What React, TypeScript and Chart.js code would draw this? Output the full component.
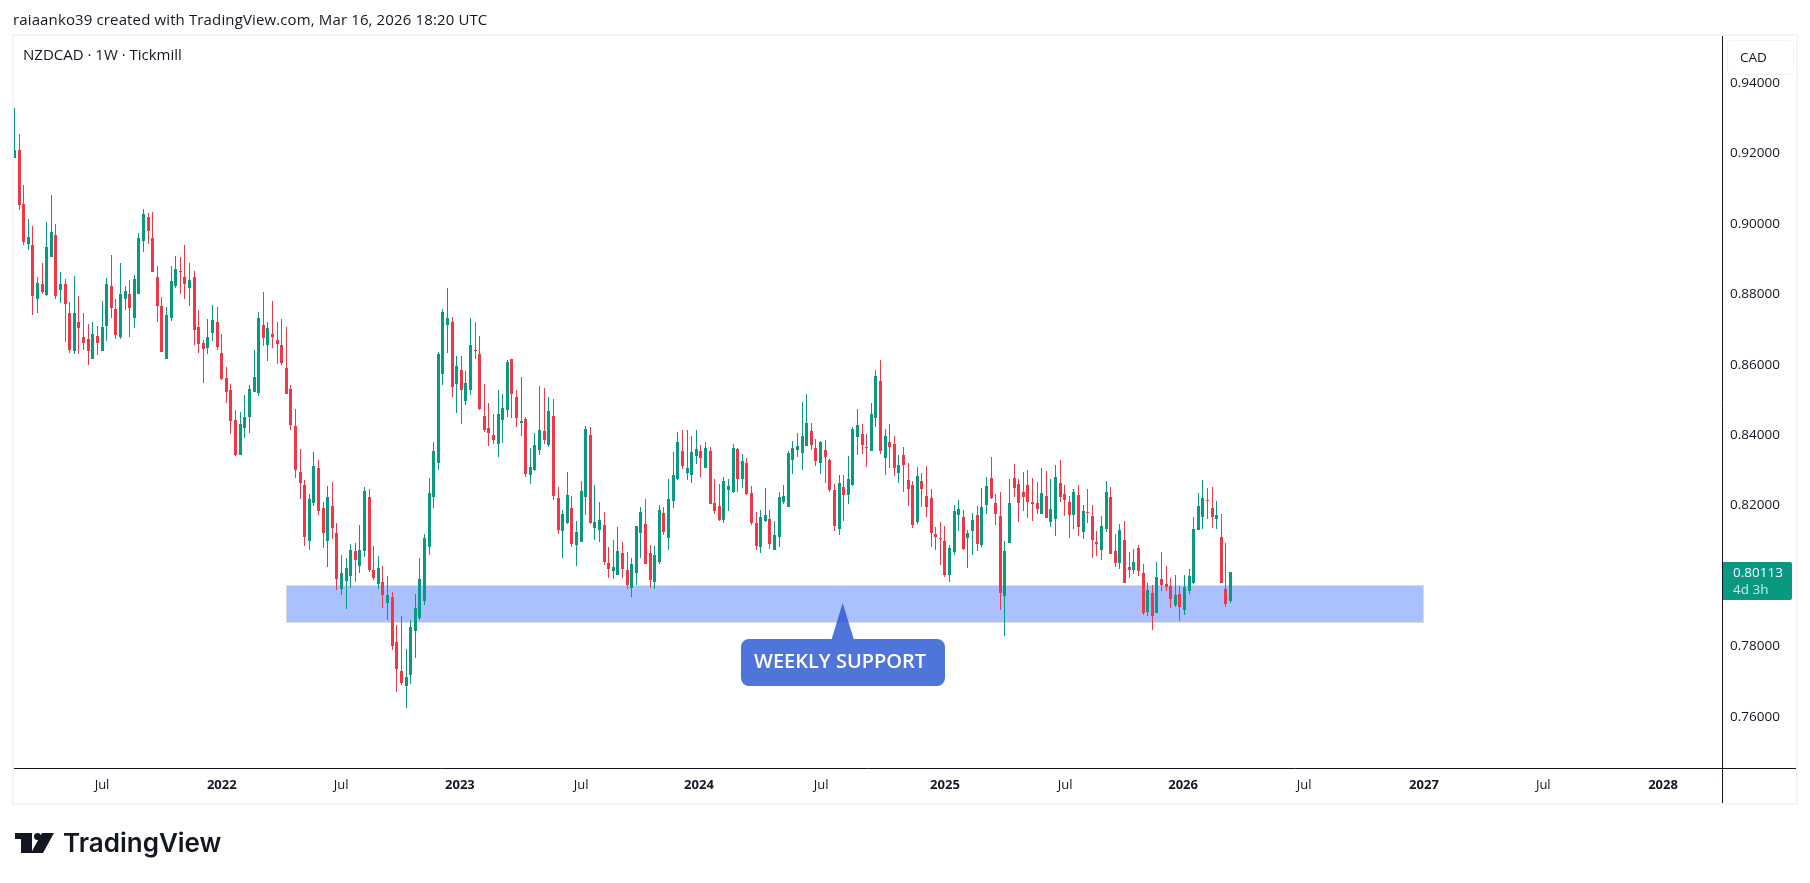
import { Chart, registerables } from 'chart.js';
import { useEffect, useRef, type FC } from 'react';

Chart.register(...registerables);

// weekly NZDCAD candles
const opens = [
  0.9187, 0.921, 0.9057, 0.8943, 0.894, 0.8787, 0.883, 0.8798, 0.8906, 0.8969,
  0.8812, 0.883, 0.8747, 0.8639, 0.8722, 0.8679, 0.8673, 0.8617, 0.8682, 0.8639,
  0.871, 0.8824, 0.8759, 0.8679, 0.8787, 0.8801, 0.8733, 0.8801, 0.8952, 0.902,
  0.896, 0.8849, 0.8767, 0.8617, 0.8733, 0.8824, 0.8866, 0.8849, 0.8818, 0.8849,
  0.8707, 0.8662, 0.8648, 0.869, 0.8722, 0.8634, 0.8563, 0.8529, 0.8444, 0.8344,
  0.8421, 0.8452, 0.8523, 0.852, 0.8713, 0.8656, 0.8688, 0.8671, 0.8656, 0.8591,
  0.8532, 0.8427, 0.8296, 0.8259, 0.81, 0.8208, 0.8307, 0.8194, 0.81, 0.8199,
  0.8123, 0.7964, 0.7986, 0.8001, 0.8072, 0.8029, 0.8072, 0.8225, 0.8018, 0.7978,
  0.7984, 0.7924, 0.7941, 0.7813, 0.7731, 0.7688, 0.772, 0.7844, 0.7881, 0.793,
  0.8083, 0.8225, 0.8321, 0.8574, 0.8713, 0.8721, 0.8545, 0.8585, 0.8497, 0.8528,
  0.8642, 0.8631, 0.8455, 0.8421, 0.8401, 0.8375, 0.8443, 0.8472, 0.8616, 0.8509,
  0.8435, 0.8446, 0.8287, 0.8301, 0.8358, 0.8412, 0.8372, 0.8455, 0.8222, 0.8128,
  0.8151, 0.8194, 0.8087, 0.8097, 0.8225, 0.8401, 0.8137, 0.8131, 0.8145, 0.8037,
  0.8015, 0.8003, 0.8066, 0.8018, 0.7966, 0.8009, 0.8122, 0.8148, 0.8066, 0.7984,
  0.804, 0.8179, 0.8108, 0.8213, 0.8276, 0.8355, 0.8293, 0.8287, 0.8341, 0.8355,
  0.8307, 0.8355, 0.8208, 0.8199, 0.8159, 0.8245, 0.8239, 0.8361, 0.8276, 0.8321,
  0.8236, 0.8151, 0.8083, 0.8157, 0.8162, 0.8074, 0.8111, 0.8211, 0.8196, 0.833,
  0.8358, 0.835, 0.8369, 0.8412, 0.8364, 0.8321, 0.8358, 0.833, 0.8245, 0.8134,
  0.8253, 0.823, 0.8259, 0.8395, 0.8404, 0.8367, 0.8355, 0.8449, 0.8554, 0.8335,
  0.8381, 0.8375, 0.8293, 0.8344, 0.8273, 0.8259, 0.8154, 0.827, 0.8228, 0.8222,
  0.812, 0.8108, 0.81, 0.8003, 0.8069, 0.8174, 0.8168, 0.8108, 0.8128, 0.8174,
  0.8089, 0.8202, 0.8279, 0.8208, 0.8171, 0.7944, 0.8094, 0.8279, 0.8262, 0.8239,
  0.8259, 0.821, 0.8208, 0.8176, 0.8228, 0.8154, 0.8162, 0.8264, 0.8233, 0.821,
  0.8174, 0.823, 0.8125, 0.8182, 0.8171, 0.8097, 0.8074, 0.8134, 0.8225, 0.8071,
  0.8037, 0.8103, 0.8026, 0.8018, 0.808, 0.8009, 0.7898, 0.7952, 0.7896, 0.7992,
  0.7978, 0.7972, 0.7918, 0.7949, 0.7904, 0.7958, 0.7981, 0.8131, 0.8168, 0.8216,
  0.8193, 0.8162, 0.8111, 0.7964, 0.793,
];

const closes = [
  0.921, 0.9054, 0.8949, 0.8963, 0.8796, 0.8832, 0.8807, 0.8935, 0.8977, 0.8796,
  0.883, 0.8773, 0.8642, 0.8747, 0.8705, 0.8662, 0.8639, 0.8688, 0.8662, 0.8707,
  0.883, 0.8761, 0.8685, 0.8801, 0.881, 0.8761, 0.8844, 0.896, 0.9028, 0.898,
  0.8864, 0.8767, 0.8636, 0.8742, 0.8838, 0.8872, 0.8864, 0.883, 0.8841, 0.8699,
  0.8659, 0.8645, 0.8679, 0.8727, 0.8651, 0.856, 0.8523, 0.8441, 0.8344, 0.8432,
  0.8452, 0.8532, 0.8566, 0.8733, 0.8676, 0.8705, 0.8679, 0.8659, 0.8605, 0.8517,
  0.8429, 0.8302, 0.8265, 0.8111, 0.8219, 0.8313, 0.8185, 0.8123, 0.8225, 0.8137,
  0.7992, 0.8009, 0.8023, 0.8074, 0.8046, 0.8074, 0.8242, 0.8018, 0.7995, 0.8023,
  0.7947, 0.7947, 0.7802, 0.7737, 0.7697, 0.7714, 0.7856, 0.791, 0.7992, 0.8108,
  0.8236, 0.8355, 0.8631, 0.875, 0.8733, 0.8537, 0.8597, 0.8528, 0.8548, 0.8656,
  0.8639, 0.8475, 0.8415, 0.8406, 0.8387, 0.846, 0.8477, 0.8608, 0.8517, 0.8449,
  0.844, 0.829, 0.831, 0.8372, 0.8415, 0.8387, 0.8469, 0.8228, 0.8131, 0.8176,
  0.823, 0.8091, 0.8125, 0.8242, 0.8418, 0.8151, 0.8154, 0.816, 0.804, 0.802,
  0.8026, 0.8071, 0.802, 0.7975, 0.8035, 0.8142, 0.8182, 0.8035, 0.7989, 0.806,
  0.8188, 0.8125, 0.8219, 0.8287, 0.8381, 0.8313, 0.8307, 0.8352, 0.8361, 0.8335,
  0.8364, 0.8205, 0.8185, 0.8159, 0.827, 0.8256, 0.8364, 0.8276, 0.8327, 0.8233,
  0.8151, 0.8086, 0.8168, 0.8174, 0.8091, 0.8117, 0.8225, 0.8227, 0.835, 0.8364,
  0.8369, 0.8398, 0.8435, 0.8372, 0.8327, 0.8381, 0.8338, 0.8245, 0.8142, 0.8264,
  0.823, 0.8276, 0.8418, 0.8429, 0.8372, 0.8364, 0.846, 0.8568, 0.8355, 0.8398,
  0.8367, 0.8307, 0.8316, 0.8316, 0.8247, 0.8145, 0.8284, 0.8247, 0.8196, 0.8123,
  0.8111, 0.8106, 0.8003, 0.808, 0.8185, 0.8191, 0.8077, 0.8123, 0.8159, 0.8091,
  0.8196, 0.8256, 0.8222, 0.8176, 0.7952, 0.8071, 0.8208, 0.825, 0.8208, 0.8225,
  0.821, 0.8205, 0.8191, 0.8236, 0.8165, 0.8191, 0.8281, 0.8225, 0.8216, 0.8174,
  0.8239, 0.814, 0.8185, 0.8179, 0.8103, 0.8091, 0.8142, 0.8239, 0.8063, 0.8037,
  0.8131, 0.7981, 0.8018, 0.804, 0.8015, 0.7896, 0.7961, 0.7887, 0.7998, 0.7975,
  0.7969, 0.7935, 0.7946, 0.7912, 0.7969, 0.8, 0.8134, 0.8199, 0.8222, 0.8213,
  0.8168, 0.8174, 0.7981, 0.7921, 0.80113,
];

const highs = [
  0.9329, 0.9255, 0.9111, 0.9014, 0.8994, 0.8849, 0.8889, 0.9005, 0.9082, 0.9,
  0.8864, 0.8844, 0.8778, 0.8852, 0.8796, 0.8747, 0.8716, 0.8722, 0.871, 0.8781,
  0.8847, 0.8912, 0.8787, 0.8889, 0.8824, 0.8841, 0.8855, 0.8974, 0.9042, 0.9031,
  0.9034, 0.8881, 0.8793, 0.8764, 0.8881, 0.8909, 0.8906, 0.894, 0.8889, 0.8866,
  0.8756, 0.8671, 0.873, 0.877, 0.8764, 0.8688, 0.8594, 0.8546, 0.8472, 0.8466,
  0.8515, 0.8543, 0.8642, 0.875, 0.8807, 0.8722, 0.8781, 0.8722, 0.873, 0.8707,
  0.8543, 0.8475, 0.8361, 0.8273, 0.8233, 0.8352, 0.833, 0.8211, 0.8256, 0.8267,
  0.8151, 0.806, 0.8052, 0.8091, 0.8094, 0.8145, 0.8253, 0.8247, 0.8086, 0.8057,
  0.8029, 0.8, 0.7955, 0.7862, 0.7887, 0.7793, 0.7876, 0.7949, 0.8052, 0.812,
  0.8279, 0.8381, 0.8636, 0.8758, 0.8818, 0.8736, 0.8625, 0.8625, 0.8582, 0.8733,
  0.8721, 0.8682, 0.8545, 0.8492, 0.846, 0.8528, 0.8517, 0.8614, 0.8616, 0.8528,
  0.8565, 0.8452, 0.8364, 0.8406, 0.854, 0.8534, 0.8509, 0.8503, 0.8253, 0.8188,
  0.8296, 0.8227, 0.8157, 0.827, 0.8426, 0.8423, 0.8259, 0.8211, 0.8182, 0.8083,
  0.8103, 0.814, 0.8097, 0.8069, 0.8052, 0.8142, 0.8196, 0.8219, 0.8088, 0.8086,
  0.8202, 0.8196, 0.8276, 0.8352, 0.8409, 0.8415, 0.8415, 0.8398, 0.8415, 0.8372,
  0.8381, 0.8367, 0.8276, 0.8262, 0.8282, 0.8276, 0.8375, 0.8364, 0.8347, 0.8335,
  0.8256, 0.8182, 0.8188, 0.825, 0.8188, 0.8157, 0.8239, 0.8259, 0.8355, 0.8384,
  0.8406, 0.8494, 0.8517, 0.8435, 0.8389, 0.8384, 0.8387, 0.8333, 0.8262, 0.8287,
  0.8287, 0.8341, 0.8423, 0.8474, 0.8432, 0.8404, 0.8492, 0.8585, 0.8614, 0.8418,
  0.8432, 0.8398, 0.8344, 0.8367, 0.8321, 0.827, 0.831, 0.8293, 0.8313, 0.8247,
  0.814, 0.8154, 0.8142, 0.8089, 0.8202, 0.8216, 0.8188, 0.8131, 0.8179, 0.8199,
  0.825, 0.8281, 0.8338, 0.8233, 0.8239, 0.81, 0.8276, 0.8318, 0.8276, 0.8296,
  0.8301, 0.8279, 0.8267, 0.8307, 0.8299, 0.8276, 0.8316, 0.833, 0.8259, 0.8228,
  0.8247, 0.8259, 0.8202, 0.8247, 0.8202, 0.8128, 0.8171, 0.827, 0.8253, 0.812,
  0.8148, 0.8157, 0.8069, 0.8077, 0.8089, 0.8034, 0.7981, 0.7975, 0.804, 0.8069,
  0.8029, 0.7995, 0.8003, 0.7972, 0.8003, 0.802, 0.8168, 0.8236, 0.8273, 0.825,
  0.8253, 0.8213, 0.8176, 0.8094, 0.8012,
];

const lows = [
  0.9187, 0.904, 0.894, 0.8926, 0.8742, 0.8747, 0.8801, 0.8796, 0.8906, 0.8787,
  0.8776, 0.8665, 0.8634, 0.8631, 0.8631, 0.8642, 0.86, 0.8617, 0.8628, 0.8639,
  0.8668, 0.8733, 0.8673, 0.8673, 0.8756, 0.8679, 0.8705, 0.8801, 0.892, 0.8943,
  0.8864, 0.8722, 0.8636, 0.8617, 0.8725, 0.8818, 0.8801, 0.8787, 0.8767, 0.8656,
  0.8634, 0.8549, 0.8631, 0.8668, 0.8642, 0.8557, 0.8492, 0.8404, 0.8341, 0.8344,
  0.8392, 0.8407, 0.8523, 0.8512, 0.8654, 0.8611, 0.8648, 0.8602, 0.86, 0.8517,
  0.8415, 0.8279, 0.8219, 0.8086, 0.8074, 0.8199, 0.8174, 0.808, 0.8026, 0.8106,
  0.7961, 0.7947, 0.7907, 0.7967, 0.7984, 0.8009, 0.8054, 0.8012, 0.7989, 0.7964,
  0.791, 0.7876, 0.7791, 0.7671, 0.7691, 0.7626, 0.7694, 0.7768, 0.7876, 0.7918,
  0.806, 0.8194, 0.8301, 0.8543, 0.8633, 0.8509, 0.8463, 0.8432, 0.8486, 0.8514,
  0.8616, 0.8472, 0.8409, 0.837, 0.8375, 0.8338, 0.8378, 0.8452, 0.8449, 0.8423,
  0.8398, 0.8282, 0.8262, 0.8299, 0.8344, 0.8375, 0.8367, 0.8216, 0.812, 0.8052,
  0.8148, 0.8083, 0.8029, 0.8097, 0.8174, 0.8148, 0.8103, 0.8097, 0.8032, 0.7995,
  0.7992, 0.8003, 0.7995, 0.7964, 0.7941, 0.7975, 0.8052, 0.8035, 0.7966, 0.7964,
  0.8035, 0.8117, 0.8074, 0.8194, 0.8273, 0.8304, 0.8273, 0.8264, 0.8318, 0.8282,
  0.8307, 0.8205, 0.8176, 0.8157, 0.8151, 0.8185, 0.8236, 0.8239, 0.825, 0.823,
  0.8145, 0.8074, 0.8066, 0.8154, 0.8077, 0.8074, 0.8083, 0.8205, 0.8196, 0.829,
  0.8338, 0.8301, 0.8369, 0.8358, 0.8313, 0.829, 0.8264, 0.8239, 0.8128, 0.8117,
  0.8157, 0.8205, 0.8256, 0.8344, 0.8347, 0.831, 0.8355, 0.8423, 0.8347, 0.8287,
  0.8307, 0.8284, 0.8264, 0.8239, 0.8199, 0.8137, 0.8148, 0.8196, 0.8168, 0.8083,
  0.8074, 0.8032, 0.7998, 0.7984, 0.806, 0.8128, 0.8074, 0.8023, 0.806, 0.8071,
  0.8083, 0.8176, 0.8219, 0.8145, 0.7904, 0.783, 0.8094, 0.8225, 0.8154, 0.8185,
  0.8165, 0.8157, 0.8176, 0.8176, 0.8165, 0.814, 0.8114, 0.821, 0.8171, 0.8108,
  0.8134, 0.8114, 0.8106, 0.8151, 0.8052, 0.8057, 0.8046, 0.8125, 0.8063, 0.8026,
  0.802, 0.7981, 0.7995, 0.8006, 0.8001, 0.789, 0.7887, 0.7847, 0.7896, 0.7958,
  0.7958, 0.791, 0.7912, 0.7873, 0.789, 0.7949, 0.7978, 0.8131, 0.8134, 0.8162,
  0.8137, 0.8134, 0.7981, 0.7912, 0.7924,
];

const priceTicks = [0.94, 0.92, 0.9, 0.88, 0.86, 0.84, 0.82, 0.8, 0.78, 0.76];

// bar index of each time label
const timeTickBars = [19, 45, 70.9, 96.7, 123, 148.6, 175.1, 202, 228.1, 253.7, 280, 306, 331.9, 357.9];
const timeTickLabels = ['Jul', '2022', 'Jul', '2023', 'Jul', '2024', 'Jul', '2025', 'Jul', '2026', 'Jul', '2027', 'Jul', '2028'];

const supportLow = 0.787;
const supportHigh = 0.7976;
const supportStartBar = 58.9;
const supportEndBar = 305.8;
const calloutBar = 179.8;
const calloutText = 'WEEKLY SUPPORT';

const lastPrice = '0.80113';
const countdown = '4d 3h';
const currency = 'CAD';

const UP = '#089981';
const DOWN = '#f23645';
const INK = '#131722';
const FONT = '"Open Sans", sans-serif';

const barColors = closes.map((c, i) => (c >= opens[i] ? UP : DOWN));

// Candle geometry is snapped to whole pixels so the wicks stay crisp
const snapCandles = {
  id: 'snapCandles',
  beforeDatasetsDraw(chart: Chart) {
    chart.getSortedVisibleDatasetMetas().forEach((meta) => {
      meta.data.forEach((el: any) => {
        el.x = Math.floor(el.x) + 0.5;
        el.y = Math.round(el.y);
        el.base = Math.round(el.base);
      });
    });
  },
};

const supportBand = {
  id: 'supportBand',
  beforeDatasetsDraw(chart: Chart) {
    const { ctx, scales } = chart;
    const left = Math.round(scales.x.getPixelForValue(supportStartBar)) + 0.5;
    const right = Math.round(scales.x.getPixelForValue(supportEndBar)) + 0.5;
    const top = Math.round(scales.y.getPixelForValue(supportHigh)) + 0.5;
    const bottom = Math.round(scales.y.getPixelForValue(supportLow)) + 0.5;
    ctx.save();
    ctx.fillStyle = '#aac0ff';
    ctx.strokeStyle = '#dcdcdc';
    ctx.lineWidth = 1;
    ctx.fillRect(left, top, right - left, bottom - top);
    ctx.strokeRect(left, top, right - left, bottom - top);
    ctx.restore();
  },
};

const annotations = {
  id: 'annotations',
  afterDraw(chart: Chart) {
    const { ctx, scales, chartArea } = chart;

    // callout below the support band
    const tipX = scales.x.getPixelForValue(calloutBar);
    ctx.save();
    ctx.fillStyle = 'rgba(39, 85, 210, 0.81)';
    ctx.beginPath();
    ctx.moveTo(741 + 8, 639);
    ctx.lineTo(tipX - 11, 639);
    ctx.lineTo(tipX, 603);
    ctx.lineTo(tipX + 11, 639);
    ctx.arcTo(945, 639, 945, 686, 8);
    ctx.arcTo(945, 686, 741, 686, 8);
    ctx.arcTo(741, 686, 741, 639, 8);
    ctx.arcTo(741, 639, 749, 639, 8);
    ctx.closePath();
    ctx.fill();
    ctx.fillStyle = '#ffffff';
    ctx.font = `600 20px ${FONT}`;
    ctx.textAlign = 'left';
    ctx.textBaseline = 'middle';
    ctx.fillText(calloutText, 754, 662);
    ctx.restore();

    // frame round the chart
    ctx.save();
    ctx.strokeStyle = '#f5f5f5';
    ctx.lineWidth = 2;
    ctx.strokeRect(13, 35, 1784, 769);

    // both axis lines run on through the other axis as far as the frame
    ctx.strokeStyle = INK;
    ctx.lineWidth = 1;
    ctx.beginPath();
    ctx.moveTo(Math.round(chartArea.right) + 0.5, chartArea.bottom);
    ctx.lineTo(Math.round(chartArea.right) + 0.5, 803);
    ctx.moveTo(chartArea.right, Math.round(chartArea.bottom) + 0.5);
    ctx.lineTo(1796, Math.round(chartArea.bottom) + 0.5);
    ctx.stroke();

    // currency box
    ctx.fillStyle = '#ffffff';
    ctx.strokeStyle = '#f0f3fa';
    ctx.lineWidth = 1;
    ctx.beginPath();
    ctx.roundRect(1727.5, 40.5, 66, 34, 4);
    ctx.fill();
    ctx.stroke();
    ctx.fillStyle = INK;
    ctx.font = `13.5px ${FONT}`;
    ctx.textBaseline = 'middle';
    ctx.fillText(currency, 1740, 58);

    // last price label
    ctx.fillStyle = UP;
    ctx.beginPath();
    ctx.roundRect(1723, 562, 69, 38, [0, 2, 2, 0]);
    ctx.fill();
    ctx.fillStyle = '#ffffff';
    ctx.fillText(lastPrice, 1733, 573);
    ctx.fillStyle = 'rgba(255, 255, 255, 0.8)';
    ctx.fillText(countdown, 1733, 590);
    ctx.restore();
  },
};

const App: FC = () => {
  const canvasRef = useRef<HTMLCanvasElement>(null);

  useEffect(() => {
    if (!canvasRef.current) {
      return;
    }

    const chart = new Chart(canvasRef.current, {
      type: 'bar',
      data: {
        datasets: [
          {
            data: opens.map((o, i) => ({ x: i, y: [o, closes[i]] })),
            backgroundColor: barColors,
            barThickness: 3,
            minBarLength: 1,
            inflateAmount: 0,
            stack: 'candles',
          },
          {
            data: highs.map((h, i) => ({ x: i, y: [lows[i], h] })),
            backgroundColor: barColors,
            barThickness: 1,
            inflateAmount: 0,
            stack: 'candles',
          },
        ],
      } as any,
      options: {
        responsive: false,
        devicePixelRatio: 1,
        animation: false,
        events: [],
        layout: { padding: { left: 14, top: 36, right: 14, bottom: 80 } },
        plugins: {
          legend: { display: false },
          tooltip: { enabled: false },
        },
        scales: {
          x: {
            type: 'linear',
            offset: false,
            min: -0.11,
            max: 370.7,
            grid: { display: false, drawTicks: false },
            border: { color: INK },
            afterFit(scale) {
              scale.height = 35;
            },
            afterBuildTicks(scale) {
              scale.ticks = timeTickBars.map((value) => ({ value }));
            },
            ticks: {
              autoSkip: false,
              maxRotation: 0,
              padding: 9,
              color: INK,
              font: (ctx: any) => ({
                family: FONT,
                size: 13,
                weight: /^20/.test(String(ctx.tick?.label)) ? 'bold' : 'normal',
              }),
              callback: (_value, index) => timeTickLabels[index],
            },
          },
          y: {
            position: 'right',
            stacked: false,
            min: 0.7455,
            max: 0.95334,
            grid: { display: false, drawTicks: false },
            border: { color: INK },
            afterFit(scale) {
              scale.width = 74;
            },
            afterBuildTicks(scale) {
              scale.ticks = priceTicks.map((value) => ({ value }));
            },
            ticks: {
              padding: 8,
              color: INK,
              font: { family: FONT, size: 13.5 },
              callback: (value) => Number(value).toFixed(5),
            },
          },
        },
      },
      plugins: [supportBand, snapCandles, annotations],
    });

    return () => {
      chart.destroy();
    };
  }, []);

  return (
    <div style={{ position: 'fixed', left: 0, top: 0, width: 1810, height: 883, background: '#fff', overflow: 'hidden' }}>
      <canvas ref={canvasRef} width={1810} height={883} style={{ display: 'block' }} />
      <div style={{ position: 'absolute', left: 13, top: 9, font: `15px ${FONT}`, letterSpacing: 0.13, color: INK, whiteSpace: 'nowrap' }}>
        raiaanko39 created with TradingView.com, Mar 16, 2026 18:20 UTC
      </div>
      <div style={{ position: 'absolute', left: 23, top: 44, font: `15px ${FONT}`, color: INK, whiteSpace: 'nowrap' }}>
        NZDCAD · 1W · Tickmill
      </div>
      <svg style={{ position: 'absolute', left: 15, top: 833 }} width={42} height={20} viewBox="0 0 42 20">
        <path d="M0 0H17V20H6V6H0Z M39 0L28 20H16L27 0Z" fill={INK} />
        <circle cx={22.5} cy={3.5} r={3.5} fill={INK} />
      </svg>
      <div style={{ position: 'absolute', left: 63, top: 827, font: `600 26px Inter, sans-serif`, color: INK, whiteSpace: 'nowrap' }}>
        TradingView
      </div>
    </div>
  );
};

export default App;
